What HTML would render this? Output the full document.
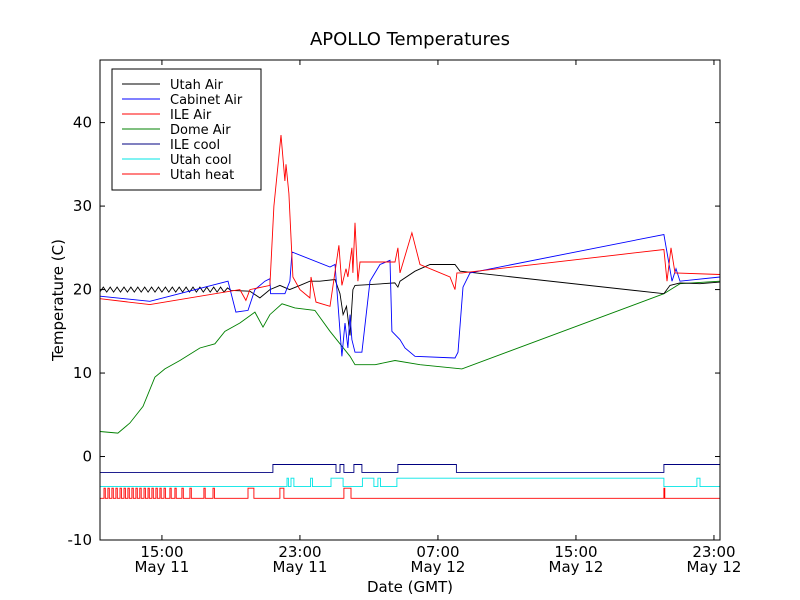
<!DOCTYPE html>
<html><head><meta charset="utf-8">
<style>
body{margin:0;background:#fff;}
svg{display:block;font-family:"DejaVu Sans","Liberation Sans",sans-serif;}
</style></head>
<body>
<svg id="chart" width="800" height="600" xmlns="http://www.w3.org/2000/svg">
<text x="410" y="45" font-size="18" text-anchor="middle">APOLLO Temperatures</text>
<text x="410" y="592" font-size="15" text-anchor="middle">Date (GMT)</text>
<text transform="translate(63,300) rotate(-90)" font-size="15" text-anchor="middle">Temperature (C)</text>
<g id="plot"></g>
<g id="axes"></g>
<g id="legend"></g>
</svg>
<script>
// x in hours since May 11 00:00 GMT, y in degrees C
const xTicks = [15, 23, 31, 39, 47];
const xTickLabels = [["15:00","May 11"],["23:00","May 11"],["07:00","May 12"],["15:00","May 12"],["23:00","May 12"]];
const yTicks = [-10, 0, 10, 20, 30, 40];
const seriesNames = ["Utah Air","Cabinet Air","ILE Air","Dome Air","ILE cool","Utah cool","Utah heat"];
const seriesColors = ["#000000","#0000ff","#ff0000","#008000","#000080","#00e5e5","#ff0000"];

const utahAirT = [11.4,11.6,11.8,12.0,12.2,12.4,12.6,12.8,13.0,13.2,13.4,13.6,13.8,14.0,14.2,14.4,14.6,14.8,15.0,15.2,15.4,15.6,15.8,16.0,16.2,16.4,16.6,16.8,17.0,17.2,17.4,17.6,17.8,18.0,18.2,18.4,18.6,18.8,19.0,20.1,20.68,21.26,21.84,22.4,23.0,23.58,24.16,25.03,25.32,25.5,25.7,25.9,26.07,26.19,27.06,28.5,28.68,28.8,29.67,30.54,31.99,32.28,44.1,44.45,45.03,46.19,47.35];
const utahAirV = [19.7,20.3,19.7,20.3,19.7,20.3,19.7,20.3,19.7,20.3,19.7,20.3,19.7,20.3,19.7,20.3,19.7,20.3,19.7,20.3,19.7,20.3,19.7,20.3,19.7,20.3,19.7,20.3,19.7,20.3,19.7,20.3,19.7,20.3,19.7,20.3,19.7,20.2,19.9,19.8,19.0,20.0,20.5,20.0,20.5,21.0,21.0,21.2,19.5,17.0,18.0,14.5,20.0,20.5,20.6,20.8,20.3,21.0,22.2,23.0,23.0,22.2,19.5,20.5,20.8,20.7,20.9];

const cabinetT = [11.41,14.3,18.83,19.29,19.99,20.39,20.97,21.26,21.3,22.13,22.42,22.54,24.74,25.03,25.14,25.32,25.43,25.61,25.78,25.9,26.01,26.19,26.59,27.06,27.64,28.22,28.33,28.8,29.09,29.67,31.99,32.16,32.45,32.86,44.1,44.57,44.8,45.03,47.35];
const cabinetV = [19.2,18.6,21.0,17.3,17.5,20.0,21.0,21.3,19.5,19.5,21.0,24.5,22.7,23.0,20.0,15.0,12.0,16.0,13.0,17.0,14.0,12.5,12.5,21.0,23.0,23.5,15.0,14.0,13.0,12.0,11.8,12.5,20.3,22.0,26.6,21.0,22.5,21.0,21.5];

const ileAirT = [11.41,14.3,19.52,19.87,20.1,21.26,21.49,21.9,22.13,22.19,22.36,22.59,23.0,23.58,23.64,23.93,24.74,25.26,25.43,25.67,25.78,26.01,26.07,26.19,26.36,26.48,28.51,28.68,28.8,29.49,29.96,31.7,31.99,32.1,32.28,32.39,44.1,44.28,44.51,44.74,47.35];
const ileAirV = [18.9,18.2,20.0,18.7,20.0,20.5,30.0,38.5,33.0,35.0,31.5,21.5,20.0,19.0,21.5,18.5,18.0,25.3,20.5,22.5,21.5,25.0,22.0,28.0,21.0,23.3,23.3,25.0,22.0,26.8,23.0,21.5,20.0,22.0,22.0,22.0,24.8,21.0,25.0,22.0,21.8];

const domeT = [11.41,12.45,13.14,13.9,14.59,15.17,16.04,17.2,18.07,18.65,19.52,20.39,20.86,21.26,21.96,22.71,23.87,24.74,25.32,25.9,26.19,27.36,28.51,29.96,32.39,44.1,45.03,47.35];
const domeV = [3.0,2.8,4.0,6.0,9.5,10.5,11.5,13.0,13.5,15.0,16.0,17.3,15.5,17.0,18.3,17.8,17.5,15.0,13.5,12.0,11.0,11.0,11.5,11.0,10.5,19.5,20.7,21.0];

const ileCoolOn = [21.43,25.32,26.13,28.68,44.1];
const ileCoolOff = [25.09,25.55,26.59,32.07,47.35];
const utahCoolOn = [22.25,22.48,23.62,24.8,26.62,27.52,28.62,46.01];
const utahCoolOff = [22.33,22.65,23.73,25.5,27.29,27.67,44.1,46.19];
const utahHeatOn = [11.64,11.87,12.1,12.33,12.57,12.8,13.03,13.26,13.49,13.72,13.96,14.19,14.42,14.65,14.88,15.12,15.46,15.75,16.16,16.62,17.43,17.96,19.99,21.84,25.55,44.1];
const utahHeatOff = [11.72,11.95,12.18,12.41,12.65,12.88,13.11,13.34,13.57,13.8,14.04,14.27,14.5,14.73,14.96,15.2,15.54,15.83,16.24,16.7,17.51,18.04,20.33,22.07,25.96,44.15];
const stepLevels = [[-1.9,-0.95],[-3.6,-2.6],[-5.0,-3.8]];

const X0=100,X1=720,Y0=60,Y1=540;
const xMin=11.41,xMax=47.35,yMin=-10,yMax=47.5;
const xs=h=>X0+(h-xMin)/(xMax-xMin)*(X1-X0);
const ys=v=>Y1-(v-yMin)/(yMax-yMin)*(Y1-Y0);
const NS="http://www.w3.org/2000/svg";
const plot=document.getElementById('plot'), axes=document.getElementById('axes'), legend=document.getElementById('legend');
function mk(tag,attrs,parent){const e=document.createElementNS(NS,tag);for(const k in attrs)e.setAttribute(k,attrs[k]);parent.appendChild(e);return e;}

function drawLine(T,V,color,name){
  const d=T.map((t,i)=>(i?'L':'M')+xs(t).toFixed(1)+' '+ys(V[i]).toFixed(1)).join(' ');
  const p=mk('path',{d:d,fill:'none',stroke:color,'stroke-width':0.9},plot);
  
  
}
function drawStep(on,off,lv,color,name){
  let pts=[[xMin,lv[0]]];
  on.forEach((a,i)=>{pts.push([a,lv[0]],[a,lv[1]],[off[i],lv[1]],[off[i],lv[0]]);});
  pts.push([xMax,lv[0]]);
  const d=pts.map((p,i)=>(i?'L':'M')+xs(p[0]).toFixed(1)+' '+ys(p[1]).toFixed(1)).join(' ');
  const p=mk('path',{d:d,fill:'none',stroke:color,'stroke-width':0.9},plot);
  
  
}
drawLine(domeT,domeV,seriesColors[3],'dome-air-line');
drawLine(utahAirT,utahAirV,seriesColors[0],'utah-air-line');
drawLine(cabinetT,cabinetV,seriesColors[1],'cabinet-air-line');
drawLine(ileAirT,ileAirV,seriesColors[2],'ile-air-line');
drawStep(ileCoolOn,ileCoolOff,stepLevels[0],seriesColors[4],'ile-cool-line');
drawStep(utahCoolOn,utahCoolOff,stepLevels[1],seriesColors[5],'utah-cool-line');
drawStep(utahHeatOn,utahHeatOff,stepLevels[2],seriesColors[6],'utah-heat-line');

const frame=mk('rect',{x:X0,y:Y0,width:X1-X0,height:Y1-Y0,fill:'none',stroke:'#000','stroke-width':1},axes);


yTicks.forEach(v=>{
  const y=ys(v);
  mk('line',{x1:X0,x2:X0+5,y1:y,y2:y,stroke:'#000'},axes);
  mk('line',{x1:X1-5,x2:X1,y1:y,y2:y,stroke:'#000'},axes);
  const t=mk('text',{x:X0-8,y:y+5,'font-size':15,'text-anchor':'end'},axes);
  t.textContent=String(v);
  
  
});
xTicks.forEach((h,i)=>{
  const x=xs(h);
  mk('line',{x1:x,x2:x,y1:Y1,y2:Y1-5,stroke:'#000'},axes);
  mk('line',{x1:x,x2:x,y1:Y0,y2:Y0+5,stroke:'#000'},axes);
  const t=mk('text',{x:x,y:Y1+17,'font-size':15,'text-anchor':'middle'},axes);
  t.textContent=xTickLabels[i][0];
  
  
  const t2=mk('text',{x:x,y:Y1+32,'font-size':15,'text-anchor':'middle'},axes);
  t2.textContent=xTickLabels[i][1];
  
  
});

const lb=mk('rect',{x:112,y:69,width:149,height:121,fill:'#fff',stroke:'#000','stroke-width':1},legend);


seriesNames.forEach((n,i)=>{
  const y=84+i*15;
  const g=mk('g',{},legend);
  
  
  mk('line',{x1:122,x2:160,y1:y,y2:y,stroke:seriesColors[i],'stroke-width':1},g);
  const t=mk('text',{x:170,y:y+5,'font-size':13},g);
  t.textContent=n;
});
</script>
</body></html>
